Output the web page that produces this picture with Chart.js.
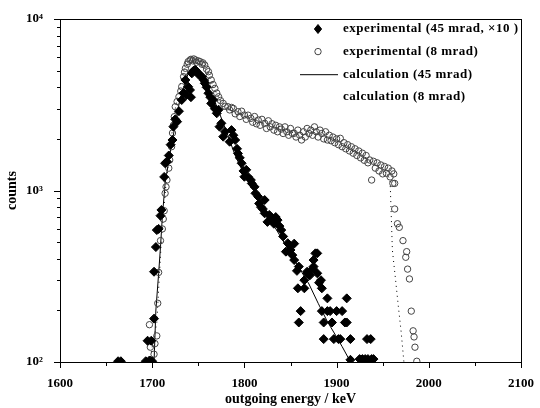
<!DOCTYPE html>
<html>
<head>
  <title>Outgoing energy spectrum</title>
  <script src="https://cdn.jsdelivr.net/npm/chart.js"></script>
  <style>
    body { margin: 0; background: #fff; }
    #box { width: 540px; height: 408px; }
  </style>
</head>
<body>
  <div id="box"><canvas id="spectrum"></canvas></div>

  <script>
    // experimental (45 mrad, x10) - filled diamonds
    const exp45Energy = [1663, 1666, 1693, 1697, 1700, 1695, 1699, 1702, 1702, 1704, 1705, 1707, 1709, 1710,
      1713, 1714, 1716, 1718, 1720, 1722, 1723, 1725, 1727, 1729, 1732, 1734, 1736, 1737, 1739, 1741, 1742,
      1743, 1745, 1747, 1749, 1751, 1754, 1756, 1757, 1759, 1761, 1763, 1764, 1766, 1768, 1770, 1772, 1773,
      1775, 1777, 1779, 1784, 1786, 1788, 1790, 1792, 1793, 1795, 1797, 1799, 1800, 1802, 1804, 1807, 1808,
      1811, 1812, 1815, 1816, 1818, 1820, 1822, 1822, 1825, 1827, 1829, 1832, 1834, 1836, 1838, 1840, 1842,
      1845, 1847, 1849, 1850, 1852, 1854, 1854, 1857, 1859, 1858, 1859, 1861, 1865, 1865, 1868, 1868, 1871,
      1874, 1875, 1875, 1877, 1879, 1879, 1881, 1883, 1884, 1884, 1886, 1886, 1890, 1890, 1893, 1895, 1897,
      1900, 1902, 1904, 1906, 1909, 1911, 1911, 1915, 1915, 1925, 1928, 1931, 1933, 1934, 1937, 1938, 1940];
    const exp45Counts = [101, 101, 101, 102, 101, 133, 133, 179, 336, 468, 588, 597, 713, 770,
      1200, 1442, 1472, 1600, 1850, 1970, 2356, 2600, 2520, 2900, 3370, 3700, 4410, 3600, 4030, 3855, 3500,
      4820, 5000, 5040, 4900, 4700, 4610, 4400, 4220, 4000, 3690, 3500, 3220, 3370, 3000, 2820, 2960, 2356,
      2465, 2060, 2200, 1925, 2250, 2100, 1970, 1750, 1645, 1550, 1442, 1300, 1203, 1320, 1200, 1151, 1100,
      1050, 963, 920, 840, 800, 780, 736, 880, 656, 720, 698, 640, 700, 672, 620, 588, 540,
      440, 493, 481, 450, 420, 393, 490, 340, 360, 269, 170, 198, 300, 269, 336, 329, 320,
      350, 393, 360, 430, 430, 329, 290, 300, 269, 198, 170, 136, 235, 198, 198, 170, 136,
      198, 136, 136, 198, 170, 235, 170, 136, 103, 104, 104, 104, 136, 104, 136, 104, 104];

    // experimental (8 mrad) - open circles
    const exp8Energy = [1697, 1698, 1702, 1703, 1705, 1706, 1707, 1709, 1711, 1712, 1713, 1714, 1715, 1716,
      1718, 1719, 1721, 1722, 1723, 1724, 1725, 1727, 1729, 1731, 1732, 1734, 1735, 1736, 1738, 1739, 1741,
      1742, 1744, 1745, 1747, 1748, 1750, 1752, 1754, 1755, 1757, 1759, 1761, 1762, 1764, 1766, 1768, 1770,
      1772, 1774, 1777, 1779, 1782, 1784, 1786, 1788, 1790, 1793, 1795, 1797, 1800, 1802, 1804, 1807, 1809,
      1811, 1813, 1815, 1817, 1819, 1822, 1824, 1826, 1828, 1830, 1832, 1834, 1836, 1838, 1840, 1842, 1844,
      1846, 1848, 1850, 1852, 1854, 1856, 1858, 1860, 1862, 1864, 1866, 1868, 1870, 1872, 1874, 1876, 1878,
      1880, 1882, 1884, 1886, 1888, 1890, 1892, 1894, 1896, 1898, 1900, 1902, 1904, 1906, 1908, 1910, 1912,
      1914, 1916, 1918, 1920, 1922, 1924, 1926, 1928, 1930, 1932, 1934, 1936, 1938, 1940, 1942, 1944, 1946,
      1948, 1950, 1952, 1954, 1956, 1958, 1960, 1961, 1962, 1963, 1963, 1966, 1968, 1972, 1975, 1976, 1977,
      1979, 1981, 1983, 1984, 1985, 1987];
    const exp8Counts = [165, 122, 111, 128, 142, 220, 333, 510, 597, 682, 762, 963, 1050, 1151,
      1350, 1506, 1800, 2164, 2400, 2694, 3080, 3300, 3520, 3800, 4030, 4610, 4900, 5160, 5450, 5640, 5750,
      5820, 5700, 5850, 5770, 5600, 5700, 5640, 5450, 5550, 5390, 5100, 4930, 4700, 4410, 4150, 3940, 3700,
      3520, 3350, 3220, 3100, 3080, 2950, 3050, 3010, 2800, 2880, 2700, 2900, 2755, 2600, 2750, 2635, 2500,
      2700, 2450, 2576, 2400, 2600, 2465, 2300, 2550, 2350, 2450, 2250, 2400, 2200, 2350, 2280, 2150, 2350,
      2200, 2100, 2300, 2150, 2155, 2050, 2250, 2100, 1970, 2200, 2050, 2300, 2150, 2250, 2100, 2350, 2200,
      2050, 2250, 2150, 2000, 2200, 1970, 2100, 1950, 2050, 1900, 2000, 1850, 2015, 1800, 1900, 1750, 1850,
      1700, 1800, 1650, 1750, 1600, 1700, 1550, 1650, 1500, 1600, 1450, 1506, 1151, 1480, 1350, 1450, 1300,
      1409, 1250, 1380, 1260, 1350, 1200, 1300, 1100, 1250, 1100, 780, 640, 610, 510, 408, 440, 348,
      305, 198, 152, 140, 122, 101];

    // calculation (45 mrad) - solid line
    const calc45Energy = [1702, 1704, 1707, 1709, 1711, 1714, 1720, 1730, 1740, 1746, 1752, 1760, 1770, 1780,
      1790, 1800, 1810, 1820, 1830, 1840, 1850, 1860, 1870, 1880, 1890, 1900, 1906, 1913, 1916];
    const calc45Counts = [100, 201, 329, 470, 703, 1101, 1722, 3400, 5000, 5350, 5000, 4100, 3100, 2250,
      1600, 1230, 1000, 800, 650, 530, 430, 350, 285, 220, 172, 140, 123, 105, 100];

    // calculation (8 mrad) - dotted line
    const calc8Energy = [1697, 1705, 1710, 1715, 1720, 1725, 1730, 1735, 1740, 1745, 1750, 1755, 1760, 1765,
      1770, 1775, 1780, 1790, 1800, 1810, 1820, 1830, 1840, 1850, 1860, 1870, 1880, 1890, 1900, 1910, 1920,
      1930, 1940, 1950, 1955, 1958, 1960.5, 1964, 1967, 1970, 1973];
    const calc8Counts = [100, 170, 520, 1100, 1900, 3000, 4100, 5100, 5700, 5800, 5650, 5400, 4900, 4200,
      3650, 3250, 3050, 2850, 2700, 2580, 2450, 2380, 2280, 2200, 2120, 2150, 2150, 2050, 1950, 1820, 1680,
      1550, 1430, 1330, 1250, 1150, 450, 300, 210, 150, 100];

    const xTicks = [1600, 1700, 1800, 1900, 2000, 2100];
    const yTickLabels = { 100: '10\u00B2', 1000: '10\u00B3', 10000: '10\u2074' };

    function toPoints(xs, ys) {
      return xs.map((x, i) => ({ x: x, y: ys[i] }));
    }

    const serif = "'Liberation Serif', 'Times New Roman', serif";

    // box around the plot and outward tick marks (major + minor)
    const frameTicks = {
      id: 'frameTicks',
      afterDraw(chart) {
        const { ctx, chartArea: a, scales } = chart;
        ctx.save();
        ctx.strokeStyle = '#000';
        ctx.lineWidth = 1;
        ctx.strokeRect(a.left + 0.5, a.top + 0.5, a.right - a.left, a.bottom - a.top);
        ctx.beginPath();
        for (let v = 1600; v <= 2100; v += 50) {
          const px = Math.round(scales.x.getPixelForValue(v)) + 0.5;
          ctx.moveTo(px, a.bottom);
          ctx.lineTo(px, a.bottom + (v % 100 === 0 ? 6 : 4));
        }
        for (let d = 100; d < 10000; d *= 10) {
          for (let m = 1; m <= 10; m++) {
            const py = Math.round(scales.y.getPixelForValue(d * m)) + 0.5;
            ctx.moveTo(a.left, py);
            ctx.lineTo(a.left - (m === 1 || m === 10 ? 6 : 3), py);
          }
        }
        ctx.stroke();
        ctx.restore();
      }
    };

    // legend inside the plot, top right
    const innerLegend = {
      id: 'innerLegend',
      afterDraw(chart) {
        const { ctx, chartArea: a } = chart;
        ctx.save();
        ctx.font = 'bold 13px ' + serif;
        ctx.letterSpacing = '0.5px';
        ctx.textBaseline = 'middle';
        chart.data.datasets.forEach((ds, i) => {
          const y = a.top + 10 + i * 22.6;
          const cx = a.right - 203;
          if (ds.showLine) {
            if (!ds.borderDash) {
              ctx.strokeStyle = ds.borderColor;
              ctx.lineWidth = ds.borderWidth;
              ctx.beginPath();
              ctx.moveTo(a.right - 221, y + 0.5);
              ctx.lineTo(a.right - 183, y + 0.5);
              ctx.stroke();
            }
          } else {
            const r = ds.pointRadius;
            ctx.fillStyle = ds.backgroundColor;
            ctx.strokeStyle = ds.borderColor;
            ctx.lineWidth = ds.borderWidth;
            ctx.beginPath();
            if (ds.pointStyle === 'circle') {
              ctx.arc(cx, y, r, 0, Math.PI * 2);
            } else {
              ctx.moveTo(cx, y - r);
              ctx.lineTo(cx + r * 0.8, y);
              ctx.lineTo(cx, y + r);
              ctx.lineTo(cx - r * 0.8, y);
              ctx.closePath();
            }
            ctx.fill();
            ctx.stroke();
          }
          ctx.fillStyle = '#000';
          ctx.fillText(ds.label, a.right - 178, y);
        });
        ctx.restore();
      }
    };

    const ctx = document.getElementById('spectrum').getContext('2d');
    new Chart(ctx, {
      type: 'scatter',
      data: {
        datasets: [
          {
            label: 'experimental (45 mrad, \u00D710 )',
            data: toPoints(exp45Energy, exp45Counts),
            pointStyle: 'rectRot',
            pointRadius: 4.5,
            backgroundColor: '#000',
            borderColor: '#000',
            borderWidth: 1,
            showLine: false,
            order: 1
          },
          {
            label: 'experimental (8 mrad)',
            data: toPoints(exp8Energy, exp8Counts),
            pointStyle: 'circle',
            pointRadius: 3.2,
            backgroundColor: 'rgba(255,255,255,0)',
            borderColor: '#444',
            borderWidth: 1,
            showLine: false,
            order: 2
          },
          {
            label: 'calculation (45 mrad)',
            data: toPoints(calc45Energy, calc45Counts),
            showLine: true,
            pointRadius: 0,
            borderColor: '#000',
            borderWidth: 1,
            tension: 0,
            order: 3
          },
          {
            label: 'calculation (8 mrad)',
            data: toPoints(calc8Energy, calc8Counts),
            showLine: true,
            pointRadius: 0,
            borderColor: '#000',
            borderWidth: 1,
            borderDash: [1, 4],
            tension: 0,
            order: 4
          }
        ]
      },
      options: {
        responsive: true,
        maintainAspectRatio: false,
        animation: false,
        layout: { padding: { left: 0, top: 19, right: 14, bottom: 0 } },
        plugins: {
          legend: { display: false },
          tooltip: { enabled: false }
        },
        scales: {
          x: {
            type: 'linear',
            min: 1600,
            max: 2100,
            afterFit: scale => { scale.height = 46; },
            afterBuildTicks: scale => { scale.ticks = xTicks.map(v => ({ value: v })); },
            grid: { display: false },
            border: { display: false },
            ticks: {
              color: '#000',
              padding: 6,
              maxRotation: 0,
              callback: v => String(v),
              font: { family: serif, size: 13, weight: 'bold' }
            },
            title: {
              display: true,
              text: 'outgoing energy / keV',
              color: '#000',
              padding: { top: 0, bottom: 0 },
              font: { family: serif, size: 14, weight: 'bold' }
            }
          },
          y: {
            type: 'logarithmic',
            min: 100,
            max: 10000,
            afterFit: scale => { scale.width = 60; },
            afterBuildTicks: scale => {
              scale.ticks = Object.keys(yTickLabels).map(v => ({ value: Number(v) }));
            },
            grid: { display: false },
            border: { display: false },
            ticks: {
              color: '#000',
              padding: 9,
              callback: v => yTickLabels[v] || '',
              font: { family: serif, size: 13, weight: 'bold' }
            },
            title: {
              display: true,
              text: 'counts',
              color: '#000',
              padding: { top: 4, bottom: 0 },
              font: { family: serif, size: 14, weight: 'bold' }
            }
          }
        }
      },
      plugins: [frameTicks, innerLegend]
    });
  </script>
</body>
</html>
